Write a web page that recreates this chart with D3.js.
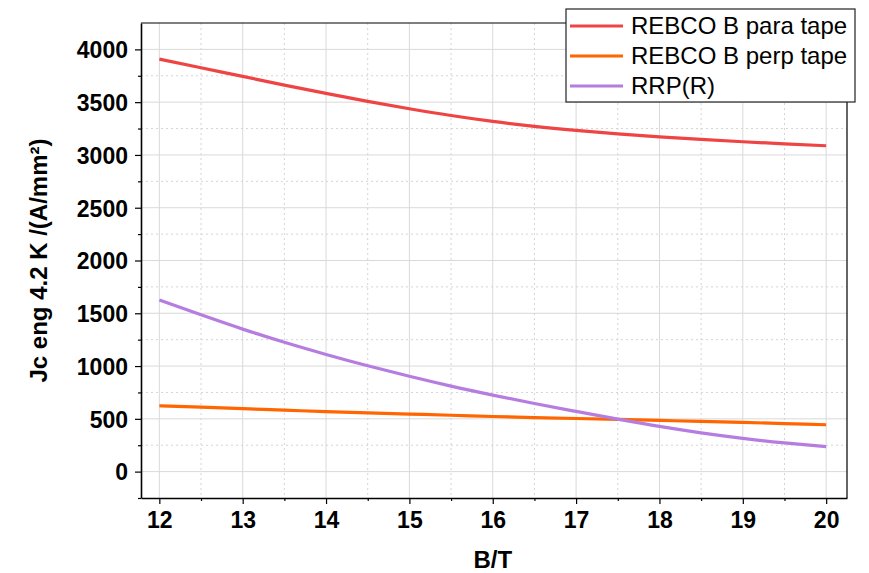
<!DOCTYPE html>
<html>
<head>
<meta charset="utf-8">
<script src="https://cdn.jsdelivr.net/npm/d3@7"></script>
<style>
  body { margin: 0; background: white; }
</style>
</head>
<body>
<div class="chart"></div>
<script>
// field values B/T
let fields = [12, 12.5, 13, 13.5, 14, 14.5, 15, 15.5, 16, 16.5, 17, 17.5, 18, 18.5, 19, 19.5, 20];

let paraTape = [3908, 3826, 3744, 3662, 3583, 3508, 3438, 3374, 3318, 3271, 3232, 3199, 3171, 3147, 3125, 3105, 3087];
let perpTape = [624, 610, 596, 582, 568, 556, 545, 534, 522, 512, 503, 494, 485, 476, 466, 455, 444];
let rrp = [1626, 1485, 1350, 1225, 1110, 1003, 903, 810, 725, 645, 570, 497, 428, 367, 315, 272, 236];

let seriesNames = ["REBCO B para tape", "REBCO B perp tape", "RRP(R)"];
let xTicks = [12, 13, 14, 15, 16, 17, 18, 19, 20];
let yTicks = [0, 500, 1000, 1500, 2000, 2500, 3000, 3500, 4000];

let colors = ["#EF4444", "#FF6600", "#B67DE0"];

let margin = { top: 23, right: 22, bottom: 75, left: 141 };
let width = 869 - margin.left - margin.right;
let height = 573 - margin.top - margin.bottom;

let svg = d3.select(".chart")
    .append("svg")
    .attr("width", 869)
    .attr("height", 573)
    .style("background-color", "white");

let g = svg.append("g")
    .attr("transform", "translate(" + margin.left + "," + margin.top + ")");

let x = d3.scaleLinear().domain([11.78, 20.25]).range([0, width]);
let y = d3.scaleLinear().domain([-250, 4250]).range([height, 0]);

let xMinor = d3.range(12.5, 20.25, 1);
let yMinor = d3.range(-250, 4250, 500);

// grid
g.append("g").selectAll("line")
    .data(xTicks).enter().append("line")
    .attr("x1", d => x(d)).attr("x2", d => x(d))
    .attr("y1", 0).attr("y2", height)
    .style("stroke", "#d9d9d9").style("stroke-width", 1);

g.append("g").selectAll("line")
    .data(yTicks).enter().append("line")
    .attr("x1", 0).attr("x2", width)
    .attr("y1", d => y(d)).attr("y2", d => y(d))
    .style("stroke", "#d9d9d9").style("stroke-width", 1);

g.append("g").selectAll("line")
    .data(xMinor).enter().append("line")
    .attr("x1", d => x(d)).attr("x2", d => x(d))
    .attr("y1", 0).attr("y2", height)
    .style("stroke", "#d4d4d4").style("stroke-width", 1)
    .style("stroke-dasharray", "2,3");

g.append("g").selectAll("line")
    .data(yMinor.filter(d => d > -250)).enter().append("line")
    .attr("x1", 0).attr("x2", width)
    .attr("y1", d => y(d)).attr("y2", d => y(d))
    .style("stroke", "#d4d4d4").style("stroke-width", 1)
    .style("stroke-dasharray", "2,3");

// curves
let series = [paraTape, perpTape, rrp];
let line = d3.line()
    .x((d, i) => x(fields[i]))
    .y(d => y(d))
    .curve(d3.curveMonotoneX);

g.append("g").selectAll("path")
    .data(series).enter().append("path")
    .attr("d", d => line(d))
    .style("fill", "none")
    .style("stroke", (d, i) => colors[i])
    .style("stroke-width", 3.2);

// frame top/right
g.append("path")
    .attr("d", "M0,0H" + width + "V" + height)
    .style("fill", "none")
    .style("stroke", "black")
    .style("stroke-width", 1.2);

// axes
let xAxis = g.append("g")
    .attr("class", "axis")
    .attr("transform", "translate(0," + height + ")")
    .call(d3.axisBottom(x).tickValues(xTicks).tickSize(6).tickSizeOuter(0).tickFormat(d3.format("d")));

let yAxis = g.append("g")
    .attr("class", "axis")
    .call(d3.axisLeft(y).tickValues(yTicks).tickSize(6).tickSizeOuter(0).tickFormat(d3.format("d")));

g.append("g")
    .attr("transform", "translate(0," + height + ")")
    .call(d3.axisBottom(x).tickValues(xMinor).tickSize(3).tickSizeOuter(0).tickFormat(""))
    .select(".domain").remove();

g.append("g")
    .call(d3.axisLeft(y).tickValues(yMinor).tickSize(3).tickSizeOuter(0).tickFormat(""))
    .select(".domain").remove();

svg.selectAll(".axis path.domain").style("stroke", "black").style("stroke-width", 1.6);
svg.selectAll(".tick line").style("stroke", "black").style("stroke-width", 1.2);

svg.selectAll(".axis text")
    .style("font-family", "Liberation Sans, Arial, sans-serif")
    .style("font-size", "23px")
    .style("font-weight", "bold")
    .style("fill", "black");

xAxis.selectAll("text").attr("dy", "0.71em").attr("y", 14);
yAxis.selectAll("text").attr("x", -13).attr("dy", "0.36em");

// axis titles
svg.append("text")
    .attr("x", margin.left + x(16))
    .attr("y", 568)
    .attr("text-anchor", "middle")
    .style("font-family", "Liberation Sans, Arial, sans-serif")
    .style("font-size", "24px")
    .style("font-weight", "bold")
    .text("B/T");

svg.append("text")
    .attr("transform", "translate(47," + (margin.top + height / 2) + ") rotate(-90)")
    .attr("text-anchor", "middle")
    .style("font-family", "Liberation Sans, Arial, sans-serif")
    .style("font-size", "24px")
    .style("font-weight", "bold")
    .text("Jc eng 4.2 K /(A/mm²)");

// legend
let legend = svg.append("g").attr("transform", "translate(566,9)");

legend.append("rect")
    .attr("width", 289)
    .attr("height", 93)
    .style("fill", "white")
    .style("stroke", "#222")
    .style("stroke-width", 1.2);

let items = legend.selectAll("g.item")
    .data(seriesNames).enter().append("g")
    .attr("class", "item")
    .attr("transform", (d, i) => "translate(0," + (17 + i * 30) + ")");

items.append("line")
    .attr("x1", 4).attr("x2", 57)
    .attr("y1", 0).attr("y2", 0)
    .style("stroke", (d, i) => colors[i])
    .style("stroke-width", 3.2);

items.append("text")
    .attr("x", 65)
    .attr("y", 0)
    .attr("dy", "0.35em")
    .style("font-family", "Liberation Sans, Arial, sans-serif")
    .style("font-size", "24px")
    .text(d => d);
</script>
</body>
</html>
